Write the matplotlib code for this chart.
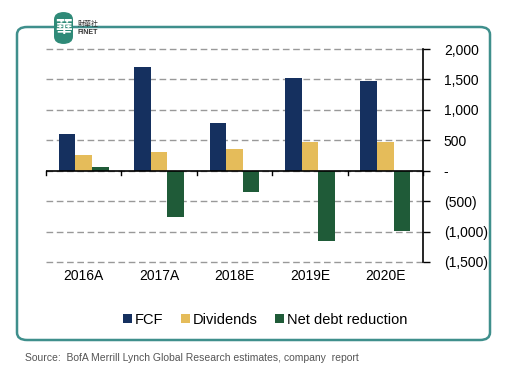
import numpy as np
import matplotlib.pyplot as plt
from matplotlib.patches import FancyBboxPatch
from matplotlib.ticker import FuncFormatter

plt.rcParams['font.family'] = ['Liberation Sans', 'DejaVu Sans']

# Data
years = ['2016A', '2017A', '2018E', '2019E', '2020E']
fcf = [600, 1700, 790, 1520, 1470]
dividends = [260, 305, 360, 470, 465]
net_debt_reduction = [55, -760, -350, -1150, -990]

c_fcf = '#15305f'
c_div = '#e5bc5a'
c_net = '#1f5b38'

W, H = 507, 374
fig = plt.figure(figsize=(W / 100, H / 100), dpi=100)

# rounded frame
frame = FancyBboxPatch((17 / W, (H - 340) / H), 473 / W, 313 / H,
                       boxstyle='round,pad=0,rounding_size=0.02',
                       transform=fig.transFigure, fc='none', ec='#3f8f8c', lw=1.8)
fig.patches.append(frame)

ax = fig.add_axes([46 / W, (H - 262) / H, 377 / W, 213 / H])
ax.patch.set_alpha(0)
x = np.arange(len(years))
w = 0.22
ax.bar(x - w, fcf, w, color=c_fcf, label='FCF', zorder=3)
ax.bar(x, dividends, w, color=c_div, label='Dividends', zorder=3)
ax.bar(x + w, net_debt_reduction, w, color=c_net, label='Net debt reduction', zorder=3)

ax.set_xlim(-0.5, len(years) - 0.5)
ax.set_ylim(-1500, 2000)
ax.set_yticks(np.arange(-1500, 2001, 500))


def fmt(v, pos):
    if v == 0:
        return '-'
    if v < 0:
        return '({:,.0f})'.format(-v)
    return '{:,.0f}'.format(v)


ax.yaxis.set_major_formatter(FuncFormatter(fmt))
ax.yaxis.tick_right()
ax.tick_params(axis='y', direction='out', length=5, width=1, labelsize=10, pad=10)
for s in ['top', 'left', 'bottom']:
    ax.spines[s].set_visible(False)
ax.spines['right'].set_linewidth(1.2)
ax.grid(axis='y', ls=(0, (4.8, 2.6)), color='#999999', lw=1, zorder=0)
for gl in ax.get_ygridlines():
    gl.set_clip_on(False)

# category axis at zero
ax.axhline(0, color='black', lw=1.2, zorder=4)
ax.set_xticks([])
for b in np.arange(-0.5, len(years), 1):
    ax.plot([b, b], [0, -70], color='black', lw=1, zorder=4, clip_on=False)
for i, yr in enumerate(years):
    ax.text(i, -1620, yr, ha='center', va='top', fontsize=10)

ax.legend(loc='center', bbox_to_anchor=(265 / W, (H - 320) / H),
          bbox_transform=fig.transFigure, ncol=3, frameon=False,
          fontsize=10.5, handlelength=0.6, handleheight=0.6,
          handletextpad=0.2, columnspacing=1.2)

# logo
logo = FancyBboxPatch((54 / W, (H - 44) / H), 19 / W, 32 / H,
                      boxstyle='round,pad=0,rounding_size=0.02',
                      transform=fig.transFigure, fc='#2f8a78', ec='none')
fig.patches.append(logo)
fig.text(63.5 / W, (H - 28) / H, '華', color='white', fontsize=12, ha='center', va='center',
         family=['Noto Sans CJK TC', 'DejaVu Sans'], weight='bold')
fig.text(78 / W, (H - 24) / H, '財華社', fontsize=5, ha='left', va='center',
         family=['Noto Sans CJK TC', 'DejaVu Sans'], color='#333333')
fig.text(78 / W, (H - 32) / H, 'FINET', fontsize=5, ha='left', va='center',
         weight='bold', color='#333333')

fig.text(25 / W, (H - 358) / H,
         'Source:  BofA Merrill Lynch Global Research estimates, company  report',
         fontsize=7.5, color='#555555', ha='left', va='center')

fig.savefig('out.png', dpi=100)
